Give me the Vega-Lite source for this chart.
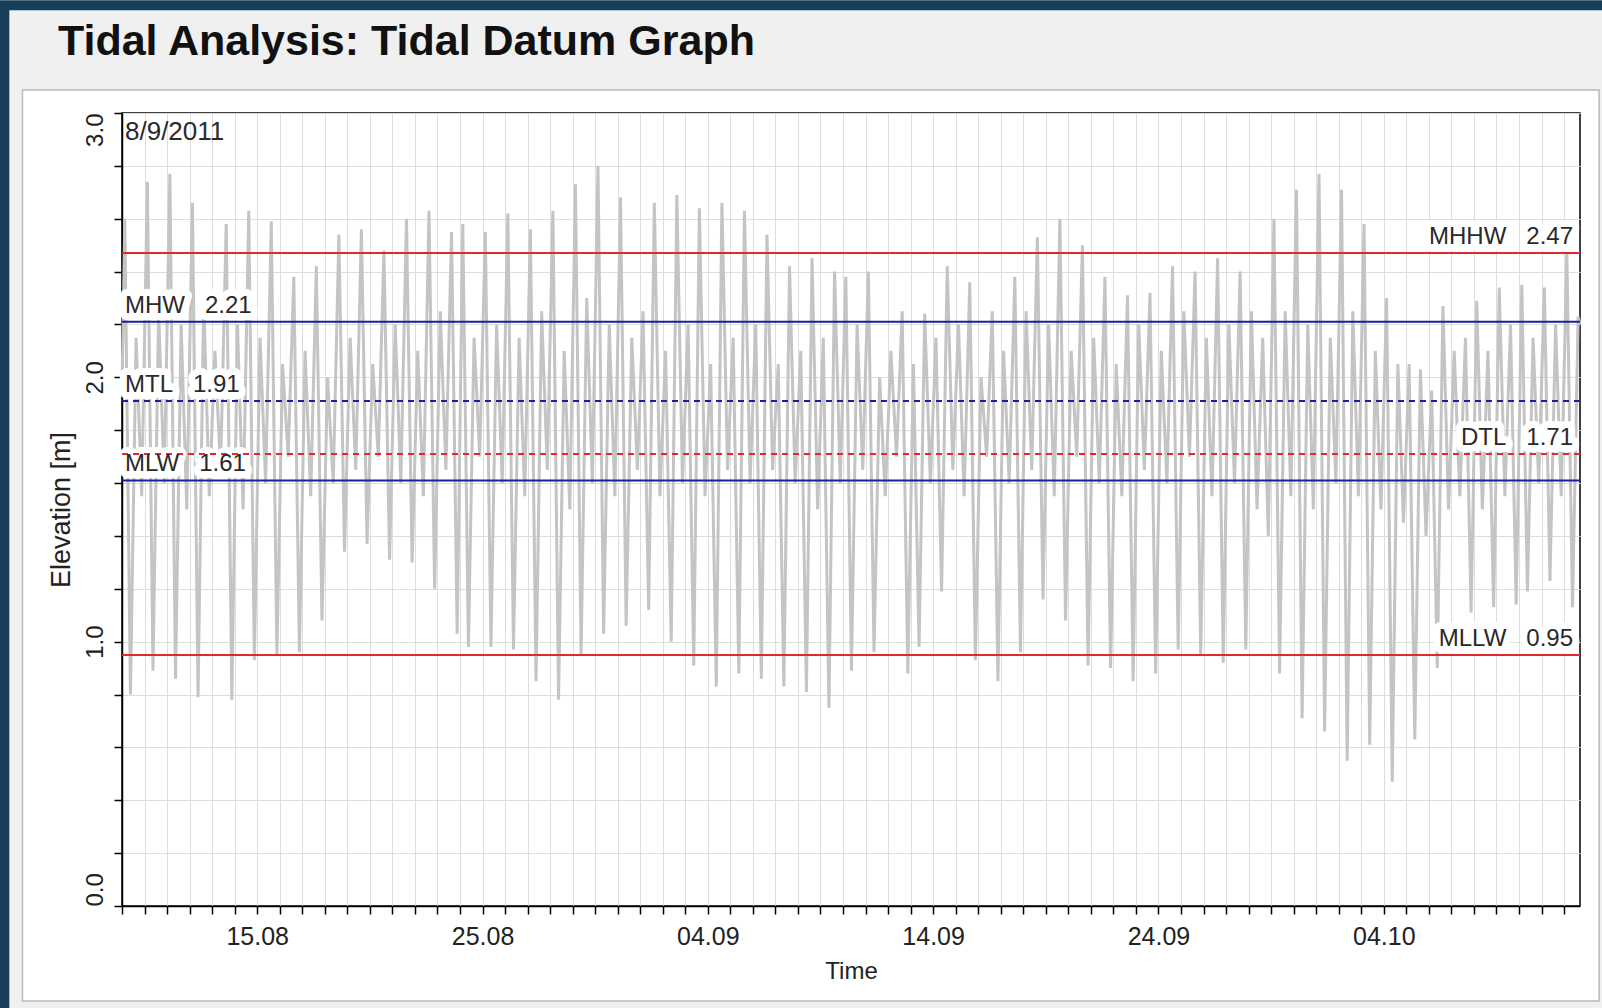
{
  "$schema": "https://vega.github.io/schema/vega-lite/v6.json",
  "width": 1458,
  "height": 793,
  "autosize": {"type": "none"},
  "padding": {"left": 122, "top": 113, "right": 22, "bottom": 102},
  "background": "#ffffff",
  "title": {
    "text": "Tidal Analysis: Tidal Datum Graph",
    "anchor": "start",
    "frame": "group",
    "dx": -64,
    "offset": -98,
    "baseline": "alphabetic",
    "font": "Liberation Sans",
    "fontSize": 43,
    "fontWeight": "bold",
    "color": "#111111",
    "zindex": 1
  },
  "config": {
    "view": {"stroke": "#000000", "strokeWidth": 1.5},
    "font": "Liberation Sans"
  },
  "datasets": {
    "frame": [{"part": "window"}],
    "tide": [
      {"t": "2011-08-09T00:00", "h": 1.95},
      {"t": "2011-08-09T03:00", "h": 2.60}, {"t": "2011-08-09T09:00", "h": 0.80}, {"t": "2011-08-09T15:00", "h": 2.15}, {"t": "2011-08-09T21:00", "h": 1.55},
      {"t": "2011-08-10T03:00", "h": 2.74}, {"t": "2011-08-10T09:00", "h": 0.89}, {"t": "2011-08-10T15:00", "h": 2.25}, {"t": "2011-08-10T21:00", "h": 1.60},
      {"t": "2011-08-11T03:00", "h": 2.77}, {"t": "2011-08-11T09:00", "h": 0.86}, {"t": "2011-08-11T15:00", "h": 2.20}, {"t": "2011-08-11T21:00", "h": 1.50},
      {"t": "2011-08-12T03:00", "h": 2.66}, {"t": "2011-08-12T09:00", "h": 0.79}, {"t": "2011-08-12T15:00", "h": 2.30}, {"t": "2011-08-12T21:00", "h": 1.55},
      {"t": "2011-08-13T03:00", "h": 2.10}, {"t": "2011-08-13T09:00", "h": 1.65}, {"t": "2011-08-13T15:00", "h": 2.58}, {"t": "2011-08-13T21:00", "h": 0.78},
      {"t": "2011-08-14T03:00", "h": 2.20}, {"t": "2011-08-14T09:00", "h": 1.50}, {"t": "2011-08-14T15:00", "h": 2.63}, {"t": "2011-08-14T21:00", "h": 0.93},
      {"t": "2011-08-15T03:00", "h": 2.15}, {"t": "2011-08-15T09:00", "h": 1.60}, {"t": "2011-08-15T15:00", "h": 2.59}, {"t": "2011-08-15T21:00", "h": 0.95},
      {"t": "2011-08-16T03:00", "h": 2.05}, {"t": "2011-08-16T09:00", "h": 1.70}, {"t": "2011-08-16T15:00", "h": 2.38}, {"t": "2011-08-16T21:00", "h": 0.96},
      {"t": "2011-08-17T03:00", "h": 2.10}, {"t": "2011-08-17T09:00", "h": 1.55}, {"t": "2011-08-17T15:00", "h": 2.42}, {"t": "2011-08-17T21:00", "h": 1.08},
      {"t": "2011-08-18T03:00", "h": 2.00}, {"t": "2011-08-18T09:00", "h": 1.60}, {"t": "2011-08-18T15:00", "h": 2.54}, {"t": "2011-08-18T21:00", "h": 1.34},
      {"t": "2011-08-19T03:00", "h": 2.15}, {"t": "2011-08-19T09:00", "h": 1.65}, {"t": "2011-08-19T15:00", "h": 2.56}, {"t": "2011-08-19T21:00", "h": 1.37},
      {"t": "2011-08-20T03:00", "h": 2.05}, {"t": "2011-08-20T09:00", "h": 1.70}, {"t": "2011-08-20T15:00", "h": 2.48}, {"t": "2011-08-20T21:00", "h": 1.31},
      {"t": "2011-08-21T03:00", "h": 2.20}, {"t": "2011-08-21T09:00", "h": 1.60}, {"t": "2011-08-21T15:00", "h": 2.60}, {"t": "2011-08-21T21:00", "h": 1.30},
      {"t": "2011-08-22T03:00", "h": 2.10}, {"t": "2011-08-22T09:00", "h": 1.55}, {"t": "2011-08-22T15:00", "h": 2.63}, {"t": "2011-08-22T21:00", "h": 1.20},
      {"t": "2011-08-23T03:00", "h": 2.25}, {"t": "2011-08-23T09:00", "h": 1.65}, {"t": "2011-08-23T15:00", "h": 2.55}, {"t": "2011-08-23T21:00", "h": 1.03},
      {"t": "2011-08-24T03:00", "h": 2.58}, {"t": "2011-08-24T09:00", "h": 0.98}, {"t": "2011-08-24T15:00", "h": 2.15}, {"t": "2011-08-24T21:00", "h": 1.70},
      {"t": "2011-08-25T03:00", "h": 2.55}, {"t": "2011-08-25T09:00", "h": 0.98}, {"t": "2011-08-25T15:00", "h": 2.20}, {"t": "2011-08-25T21:00", "h": 1.60},
      {"t": "2011-08-26T03:00", "h": 2.62}, {"t": "2011-08-26T09:00", "h": 0.97}, {"t": "2011-08-26T15:00", "h": 2.15}, {"t": "2011-08-26T21:00", "h": 1.55},
      {"t": "2011-08-27T03:00", "h": 2.56}, {"t": "2011-08-27T09:00", "h": 0.85}, {"t": "2011-08-27T15:00", "h": 2.25}, {"t": "2011-08-27T21:00", "h": 1.65},
      {"t": "2011-08-28T03:00", "h": 2.63}, {"t": "2011-08-28T09:00", "h": 0.78}, {"t": "2011-08-28T15:00", "h": 2.10}, {"t": "2011-08-28T21:00", "h": 1.50},
      {"t": "2011-08-29T03:00", "h": 2.73}, {"t": "2011-08-29T09:00", "h": 0.95}, {"t": "2011-08-29T15:00", "h": 2.30}, {"t": "2011-08-29T21:00", "h": 1.60},
      {"t": "2011-08-30T03:00", "h": 2.80}, {"t": "2011-08-30T09:00", "h": 1.03}, {"t": "2011-08-30T15:00", "h": 2.20}, {"t": "2011-08-30T21:00", "h": 1.55},
      {"t": "2011-08-31T03:00", "h": 2.68}, {"t": "2011-08-31T09:00", "h": 1.06}, {"t": "2011-08-31T15:00", "h": 2.15}, {"t": "2011-08-31T21:00", "h": 1.65},
      {"t": "2011-09-01T03:00", "h": 2.25}, {"t": "2011-09-01T09:00", "h": 1.12}, {"t": "2011-09-01T15:00", "h": 2.66}, {"t": "2011-09-01T21:00", "h": 1.55},
      {"t": "2011-09-02T03:00", "h": 2.10}, {"t": "2011-09-02T09:00", "h": 1.00}, {"t": "2011-09-02T15:00", "h": 2.69}, {"t": "2011-09-02T21:00", "h": 1.60},
      {"t": "2011-09-03T03:00", "h": 2.20}, {"t": "2011-09-03T09:00", "h": 0.91}, {"t": "2011-09-03T15:00", "h": 2.64}, {"t": "2011-09-03T21:00", "h": 1.55},
      {"t": "2011-09-04T03:00", "h": 2.05}, {"t": "2011-09-04T09:00", "h": 0.83}, {"t": "2011-09-04T15:00", "h": 2.66}, {"t": "2011-09-04T21:00", "h": 1.65},
      {"t": "2011-09-05T03:00", "h": 2.15}, {"t": "2011-09-05T09:00", "h": 0.88}, {"t": "2011-09-05T15:00", "h": 2.63}, {"t": "2011-09-05T21:00", "h": 1.60},
      {"t": "2011-09-06T03:00", "h": 2.20}, {"t": "2011-09-06T09:00", "h": 0.86}, {"t": "2011-09-06T15:00", "h": 2.54}, {"t": "2011-09-06T21:00", "h": 1.65},
      {"t": "2011-09-07T03:00", "h": 2.05}, {"t": "2011-09-07T09:00", "h": 0.83}, {"t": "2011-09-07T15:00", "h": 2.42}, {"t": "2011-09-07T21:00", "h": 1.60},
      {"t": "2011-09-08T03:00", "h": 2.10}, {"t": "2011-09-08T09:00", "h": 0.81}, {"t": "2011-09-08T15:00", "h": 2.45}, {"t": "2011-09-08T21:00", "h": 1.50},
      {"t": "2011-09-09T03:00", "h": 2.15}, {"t": "2011-09-09T09:00", "h": 0.75}, {"t": "2011-09-09T15:00", "h": 2.40}, {"t": "2011-09-09T21:00", "h": 1.60},
      {"t": "2011-09-10T03:00", "h": 2.38}, {"t": "2011-09-10T09:00", "h": 0.89}, {"t": "2011-09-10T15:00", "h": 2.20}, {"t": "2011-09-10T21:00", "h": 1.65},
      {"t": "2011-09-11T03:00", "h": 2.40}, {"t": "2011-09-11T09:00", "h": 0.96}, {"t": "2011-09-11T15:00", "h": 2.00}, {"t": "2011-09-11T21:00", "h": 1.55},
      {"t": "2011-09-12T03:00", "h": 2.10}, {"t": "2011-09-12T09:00", "h": 1.70}, {"t": "2011-09-12T15:00", "h": 2.25}, {"t": "2011-09-12T21:00", "h": 0.88},
      {"t": "2011-09-13T03:00", "h": 2.05}, {"t": "2011-09-13T09:00", "h": 0.98}, {"t": "2011-09-13T15:00", "h": 2.24}, {"t": "2011-09-13T21:00", "h": 1.60},
      {"t": "2011-09-14T03:00", "h": 2.15}, {"t": "2011-09-14T09:00", "h": 1.19}, {"t": "2011-09-14T15:00", "h": 2.42}, {"t": "2011-09-14T21:00", "h": 1.65},
      {"t": "2011-09-15T03:00", "h": 2.20}, {"t": "2011-09-15T09:00", "h": 1.55}, {"t": "2011-09-15T15:00", "h": 2.36}, {"t": "2011-09-15T21:00", "h": 0.93},
      {"t": "2011-09-16T03:00", "h": 2.00}, {"t": "2011-09-16T09:00", "h": 1.70}, {"t": "2011-09-16T15:00", "h": 2.25}, {"t": "2011-09-16T21:00", "h": 0.85},
      {"t": "2011-09-17T03:00", "h": 2.10}, {"t": "2011-09-17T09:00", "h": 1.60}, {"t": "2011-09-17T15:00", "h": 2.38}, {"t": "2011-09-17T21:00", "h": 0.96},
      {"t": "2011-09-18T03:00", "h": 2.25}, {"t": "2011-09-18T09:00", "h": 1.65}, {"t": "2011-09-18T15:00", "h": 2.53}, {"t": "2011-09-18T21:00", "h": 1.16},
      {"t": "2011-09-19T03:00", "h": 2.20}, {"t": "2011-09-19T09:00", "h": 1.55}, {"t": "2011-09-19T15:00", "h": 2.60}, {"t": "2011-09-19T21:00", "h": 1.08},
      {"t": "2011-09-20T03:00", "h": 2.10}, {"t": "2011-09-20T09:00", "h": 1.70}, {"t": "2011-09-20T15:00", "h": 2.50}, {"t": "2011-09-20T21:00", "h": 0.91},
      {"t": "2011-09-21T03:00", "h": 2.15}, {"t": "2011-09-21T09:00", "h": 1.60}, {"t": "2011-09-21T15:00", "h": 2.38}, {"t": "2011-09-21T21:00", "h": 0.90},
      {"t": "2011-09-22T03:00", "h": 2.05}, {"t": "2011-09-22T09:00", "h": 1.55}, {"t": "2011-09-22T15:00", "h": 2.31}, {"t": "2011-09-22T21:00", "h": 0.85},
      {"t": "2011-09-23T03:00", "h": 2.20}, {"t": "2011-09-23T09:00", "h": 1.65}, {"t": "2011-09-23T15:00", "h": 2.32}, {"t": "2011-09-23T21:00", "h": 0.88},
      {"t": "2011-09-24T03:00", "h": 2.10}, {"t": "2011-09-24T09:00", "h": 1.60}, {"t": "2011-09-24T15:00", "h": 2.42}, {"t": "2011-09-24T21:00", "h": 0.97},
      {"t": "2011-09-25T03:00", "h": 2.25}, {"t": "2011-09-25T09:00", "h": 1.70}, {"t": "2011-09-25T15:00", "h": 2.40}, {"t": "2011-09-25T21:00", "h": 0.95},
      {"t": "2011-09-26T03:00", "h": 2.15}, {"t": "2011-09-26T09:00", "h": 1.55}, {"t": "2011-09-26T15:00", "h": 2.45}, {"t": "2011-09-26T21:00", "h": 0.92},
      {"t": "2011-09-27T03:00", "h": 2.20}, {"t": "2011-09-27T09:00", "h": 1.60}, {"t": "2011-09-27T15:00", "h": 2.40}, {"t": "2011-09-27T21:00", "h": 0.97},
      {"t": "2011-09-28T03:00", "h": 2.25}, {"t": "2011-09-28T09:00", "h": 1.50}, {"t": "2011-09-28T15:00", "h": 2.15}, {"t": "2011-09-28T21:00", "h": 1.40},
      {"t": "2011-09-29T03:00", "h": 2.60}, {"t": "2011-09-29T09:00", "h": 0.88}, {"t": "2011-09-29T15:00", "h": 2.25}, {"t": "2011-09-29T21:00", "h": 1.55},
      {"t": "2011-09-30T03:00", "h": 2.71}, {"t": "2011-09-30T09:00", "h": 0.71}, {"t": "2011-09-30T15:00", "h": 2.20}, {"t": "2011-09-30T21:00", "h": 1.50},
      {"t": "2011-10-01T03:00", "h": 2.77}, {"t": "2011-10-01T09:00", "h": 0.66}, {"t": "2011-10-01T15:00", "h": 2.15}, {"t": "2011-10-01T21:00", "h": 1.60},
      {"t": "2011-10-02T03:00", "h": 2.71}, {"t": "2011-10-02T09:00", "h": 0.55}, {"t": "2011-10-02T15:00", "h": 2.25}, {"t": "2011-10-02T21:00", "h": 1.55},
      {"t": "2011-10-03T03:00", "h": 2.58}, {"t": "2011-10-03T09:00", "h": 0.61}, {"t": "2011-10-03T15:00", "h": 2.10}, {"t": "2011-10-03T21:00", "h": 1.50},
      {"t": "2011-10-04T03:00", "h": 2.30}, {"t": "2011-10-04T09:00", "h": 0.47}, {"t": "2011-10-04T15:00", "h": 2.05}, {"t": "2011-10-04T21:00", "h": 1.45},
      {"t": "2011-10-05T03:00", "h": 2.05}, {"t": "2011-10-05T09:00", "h": 0.63}, {"t": "2011-10-05T15:00", "h": 2.03}, {"t": "2011-10-05T21:00", "h": 1.40},
      {"t": "2011-10-06T03:00", "h": 1.95}, {"t": "2011-10-06T09:00", "h": 0.90}, {"t": "2011-10-06T15:00", "h": 2.27}, {"t": "2011-10-06T21:00", "h": 1.50},
      {"t": "2011-10-07T03:00", "h": 2.10}, {"t": "2011-10-07T09:00", "h": 1.55}, {"t": "2011-10-07T15:00", "h": 2.15}, {"t": "2011-10-07T21:00", "h": 1.11},
      {"t": "2011-10-08T03:00", "h": 2.29}, {"t": "2011-10-08T09:00", "h": 1.50}, {"t": "2011-10-08T15:00", "h": 2.10}, {"t": "2011-10-08T21:00", "h": 1.13},
      {"t": "2011-10-09T03:00", "h": 2.34}, {"t": "2011-10-09T09:00", "h": 1.55}, {"t": "2011-10-09T15:00", "h": 2.20}, {"t": "2011-10-09T21:00", "h": 1.14},
      {"t": "2011-10-10T03:00", "h": 2.35}, {"t": "2011-10-10T09:00", "h": 1.19}, {"t": "2011-10-10T15:00", "h": 2.15}, {"t": "2011-10-10T21:00", "h": 1.60},
      {"t": "2011-10-11T03:00", "h": 2.34}, {"t": "2011-10-11T09:00", "h": 1.23}, {"t": "2011-10-11T15:00", "h": 2.20}, {"t": "2011-10-11T21:00", "h": 1.55},
      {"t": "2011-10-12T03:00", "h": 2.47}, {"t": "2011-10-12T09:00", "h": 1.13}, {"t": "2011-10-12T15:00", "h": 2.23}, {"t": "2011-10-12T17:00", "h": 2.20}
    ],
    "datums": [
      {"name": "MHHW", "value": 2.47},
      {"name": "MHW", "value": 2.21},
      {"name": "MTL", "value": 1.91},
      {"name": "DTL", "value": 1.71},
      {"name": "MLW", "value": 1.61},
      {"name": "MLLW", "value": 0.95}
    ],
    "series_start": [{"start": "2011-08-09T00:00"}]
  },
  "layer": [
    {
      "data": {"name": "frame"},
      "mark": {"type": "rect", "fill": "transparent", "stroke": "#f0f0f0", "strokeWidth": 82},
      "encoding": {
        "x": {"datum": {"year": 2011, "month": 8, "date": 2, "hours": 18, "minutes": 20}, "type": "temporal"},
        "x2": {"datum": {"year": 2011, "month": 10, "date": 15, "hours": 9}},
        "y": {"datum": 3.242, "type": "quantitative"},
        "y2": {"datum": -0.5145}
      }
    },
    {
      "data": {"name": "frame"},
      "mark": {"type": "rect", "fill": "transparent", "stroke": "#173f5b", "strokeWidth": 10},
      "encoding": {
        "x": {"datum": {"year": 2011, "month": 8, "date": 3, "hours": 18, "minutes": 40}, "type": "temporal"},
        "x2": {"datum": {"year": 2011, "month": 10, "date": 18}},
        "y": {"datum": 3.408, "type": "quantitative"},
        "y2": {"datum": -0.734}
      }
    },
    {
      "data": {"name": "frame"},
      "mark": {"type": "rect", "fill": "transparent", "stroke": "#b9b9b9", "strokeWidth": 1.5},
      "encoding": {
        "x": {"datum": {"year": 2011, "month": 8, "date": 4, "hours": 14}, "type": "temporal"},
        "x2": {"datum": {"year": 2011, "month": 10, "date": 13, "hours": 13, "minutes": 22}},
        "y": {"datum": 3.087, "type": "quantitative"},
        "y2": {"datum": -0.359}
      }
    },
    {
      "data": {"name": "tide"},
      "mark": {"type": "line", "color": "#c4c4c4", "strokeWidth": 3},
      "encoding": {
        "x": {
          "field": "t",
          "type": "temporal",
          "scale": {"domain": [{"year": 2011, "month": 8, "date": 9}, {"year": 2011, "month": 10, "date": 12, "hours": 17}]},
          "axis": {
            "tickCount": {"interval": "day", "step": 1},
            "grid": true,
            "gridColor": "#dddddd",
            "domainColor": "#000000",
            "domainWidth": 1.5,
            "tickColor": "#000000",
            "tickWidth": 1.5,
            "tickSize": 8,
            "labelExpr": "indexof(['15.08','25.08','04.09','14.09','24.09','04.10'], timeFormat(datum.value, '%d.%m')) >= 0 ? timeFormat(datum.value, '%d.%m') : ''",
            "labelAngle": 0,
            "labelFontSize": 25,
            "labelColor": "#222222",
            "labelPadding": 10,
            "labelOverlap": false,
            "labelFlush": false,
            "title": "Time",
            "titleFontSize": 24,
            "titleFontWeight": "normal",
            "titleColor": "#222222",
            "titlePadding": 10
          }
        },
        "y": {
          "field": "h",
          "type": "quantitative",
          "scale": {"domain": [0, 3], "nice": false, "zero": false},
          "axis": {
            "values": [0, 0.2, 0.4, 0.6, 0.8, 1, 1.2, 1.4, 1.6, 1.8, 2, 2.2, 2.4, 2.6, 2.8, 3],
            "grid": true,
            "gridColor": "#dddddd",
            "domainColor": "#000000",
            "domainWidth": 1.5,
            "tickColor": "#000000",
            "tickWidth": 1.5,
            "tickSize": 8,
            "labelExpr": "datum.value % 1 === 0 ? format(datum.value, '.1f') : ''",
            "labelAngle": -90,
            "labelAlign": {
              "condition": [
                {"test": "datum.value === 0", "value": "left"},
                {"test": "datum.value === 3", "value": "right"}
              ],
              "value": "center"
            },
            "labelBaseline": "alphabetic",
            "labelPadding": 12,
            "labelFontSize": 24,
            "labelColor": "#222222",
            "labelOverlap": false,
            "labelFlush": false,
            "title": "Elevation [m]",
            "titleFontSize": 27,
            "titleFontWeight": "normal",
            "titleColor": "#222222",
            "titlePadding": 8
          }
        }
      }
    },
    {
      "data": {"name": "datums"},
      "transform": [
        {"filter": {"field": "name", "oneOf": ["MHHW", "DTL", "MLLW"]}},
        {"calculate": "datum.name + '\u00a0\u00a0\u00a0' + format(datum.value, '.2f')", "as": "label"}
      ],
      "mark": {"type": "text", "align": "right", "baseline": "alphabetic", "dx": -7, "dy": -9, "fontSize": 24, "fill": "#ffffff", "stroke": "#ffffff", "strokeWidth": 14, "strokeJoin": "round"},
      "encoding": {
        "x": {"datum": {"year": 2011, "month": 10, "date": 12, "hours": 17}, "type": "temporal"},
        "y": {"field": "value", "type": "quantitative"},
        "text": {"field": "label"}
      }
    },
    {
      "data": {"name": "datums"},
      "transform": [
        {"filter": {"field": "name", "oneOf": ["MHW", "MTL", "MLW"]}},
        {"calculate": "datum.name + '\u00a0\u00a0\u00a0' + format(datum.value, '.2f')", "as": "label"}
      ],
      "mark": {"type": "text", "align": "left", "baseline": "alphabetic", "dx": 3, "dy": -9, "fontSize": 24, "fill": "#ffffff", "stroke": "#ffffff", "strokeWidth": 14, "strokeJoin": "round"},
      "encoding": {
        "x": {"datum": {"year": 2011, "month": 8, "date": 9}, "type": "temporal"},
        "y": {"field": "value", "type": "quantitative"},
        "text": {"field": "label"}
      }
    },
    {
      "data": {"name": "datums"},
      "mark": {"type": "rule", "strokeWidth": 2},
      "encoding": {
        "y": {"field": "value", "type": "quantitative"},
        "color": {
          "field": "name",
          "type": "nominal",
          "scale": {"domain": ["MHHW", "MHW", "MTL", "DTL", "MLW", "MLLW"], "range": ["#e0282d", "#1e1e9c", "#1e1e9c", "#e0282d", "#1e1e9c", "#e0282d"]},
          "legend": null
        },
        "strokeDash": {
          "field": "name",
          "type": "nominal",
          "scale": {"domain": ["MHHW", "MHW", "MTL", "DTL", "MLW", "MLLW"], "range": [[1, 0], [1, 0], [6, 5], [6, 5], [1, 0], [1, 0]]},
          "legend": null
        }
      }
    },
    {
      "data": {"name": "datums"},
      "transform": [
        {"filter": {"field": "name", "oneOf": ["MHHW", "DTL", "MLLW"]}},
        {"calculate": "datum.name + '\u00a0\u00a0\u00a0' + format(datum.value, '.2f')", "as": "label"}
      ],
      "mark": {"type": "text", "align": "right", "baseline": "alphabetic", "dx": -7, "dy": -9, "fontSize": 24, "color": "#2a2a2a"},
      "encoding": {
        "x": {"datum": {"year": 2011, "month": 10, "date": 12, "hours": 17}, "type": "temporal"},
        "y": {"field": "value", "type": "quantitative"},
        "text": {"field": "label"}
      }
    },
    {
      "data": {"name": "datums"},
      "transform": [
        {"filter": {"field": "name", "oneOf": ["MHW", "MTL", "MLW"]}},
        {"calculate": "datum.name + '\u00a0\u00a0\u00a0' + format(datum.value, '.2f')", "as": "label"}
      ],
      "mark": {"type": "text", "align": "left", "baseline": "alphabetic", "dx": 3, "dy": -9, "fontSize": 24, "color": "#2a2a2a"},
      "encoding": {
        "x": {"datum": {"year": 2011, "month": 8, "date": 9}, "type": "temporal"},
        "y": {"field": "value", "type": "quantitative"},
        "text": {"field": "label"}
      }
    },
    {
      "data": {"name": "series_start"},
      "mark": {"type": "text", "align": "left", "baseline": "alphabetic", "dx": 3, "dy": 27, "fontSize": 26, "color": "#2a2a2a"},
      "encoding": {
        "x": {"field": "start", "type": "temporal"},
        "y": {"datum": 3, "type": "quantitative"},
        "text": {"field": "start", "type": "temporal", "format": "%-m/%-d/%Y"}
      }
    }
  ]
}
